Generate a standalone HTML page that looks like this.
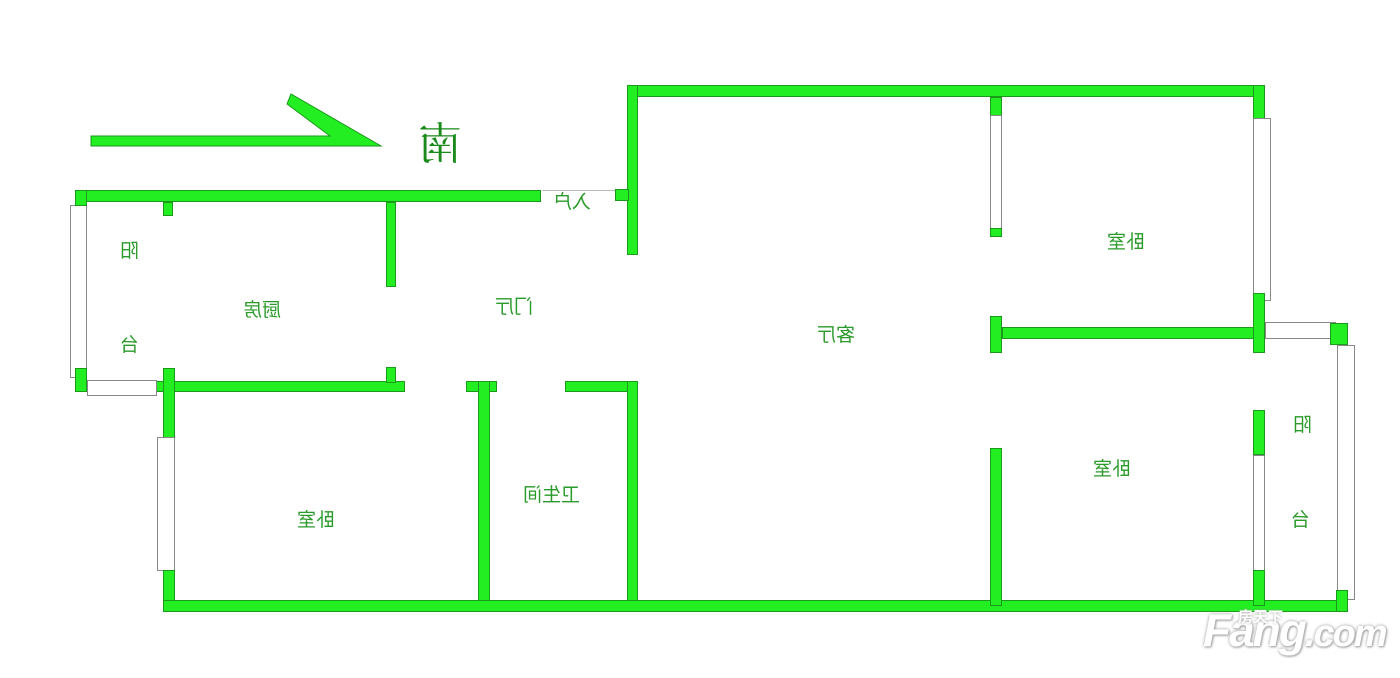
<!DOCTYPE html>
<html><head><meta charset="utf-8"><style>
body{margin:0;width:1400px;height:678px;background:#fff;position:relative;overflow:hidden;font-family:"Liberation Sans","Noto Sans CJK SC",sans-serif}
.w{position:absolute;background:#22ee22;box-shadow:inset 0 0 0 1px #1a9a1a}
.win{position:absolute;background:#fff;border:1px solid #888;box-sizing:border-box}
.t{position:absolute;color:#2a9a2a;font-size:19px;transform:scaleX(-1);white-space:nowrap;font-family:"Noto Sans CJK SC",sans-serif}
</style></head><body>
<svg style="position:absolute;left:0;top:0" width="1400" height="678">
<polygon points="91,136 330,136 287,104 291,94 381,146 91,146" fill="#22ee22" stroke="#1a9a1a" stroke-width="1"/>
</svg>
<div class="t" style="left:418px;top:108px;font-size:44px;color:#1a8a1a;font-family:'Noto Serif CJK SC',serif">南</div>

<!-- living top/left -->
<div class="w" style="left:627px;top:85px;width:638px;height:12px"></div>
<div class="w" style="left:627px;top:85px;width:11px;height:170px"></div>
<div class="w" style="left:615px;top:189px;width:14px;height:12px"></div>
<div style="position:absolute;left:542px;top:190px;width:73px;height:1px;background:#bbb"></div>
<!-- top of left part -->
<div class="w" style="left:75px;top:190px;width:466px;height:12px"></div>
<div class="win" style="left:70px;top:205px;width:17px;height:173px"></div>
<div class="w" style="left:75px;top:190px;width:12px;height:16px"></div>
<div class="w" style="left:75px;top:368px;width:12px;height:24px"></div>
<div class="w" style="left:163px;top:202px;width:10px;height:14px"></div>
<div class="w" style="left:386px;top:202px;width:10px;height:85px"></div>
<div class="w" style="left:155px;top:381px;width:250px;height:11px"></div>
<div class="w" style="left:386px;top:367px;width:10px;height:16px"></div>
<div class="win" style="left:87px;top:380px;width:70px;height:16px"></div>
<div class="w" style="left:163px;top:368px;width:12px;height:70px"></div>
<div class="win" style="left:157px;top:437px;width:18px;height:134px"></div>
<div class="w" style="left:163px;top:570px;width:12px;height:42px"></div>
<!-- bathroom -->
<div class="w" style="left:466px;top:381px;width:31px;height:11px"></div>
<div class="w" style="left:478px;top:381px;width:12px;height:225px"></div>
<div class="w" style="left:565px;top:381px;width:72px;height:11px"></div>
<div class="w" style="left:627px;top:381px;width:11px;height:225px"></div>
<!-- bottom -->
<div class="w" style="left:163px;top:600px;width:1185px;height:12px"></div>
<!-- right partition -->
<div class="w" style="left:990px;top:97px;width:12px;height:20px"></div>
<div class="win" style="left:990px;top:115px;width:12px;height:122px"></div>
<div class="w" style="left:990px;top:228px;width:12px;height:9px"></div>
<div class="w" style="left:990px;top:316px;width:12px;height:37px"></div>
<div class="w" style="left:990px;top:448px;width:12px;height:158px"></div>
<div class="w" style="left:1002px;top:327px;width:263px;height:12px"></div>
<!-- right wall -->
<div class="w" style="left:1253px;top:85px;width:12px;height:40px"></div>
<div class="win" style="left:1253px;top:118px;width:18px;height:183px"></div>
<div class="w" style="left:1253px;top:293px;width:12px;height:60px"></div>
<div class="win" style="left:1265px;top:322px;width:71px;height:17px"></div>
<div class="w" style="left:1330px;top:323px;width:18px;height:22px"></div>
<div class="win" style="left:1337px;top:345px;width:18px;height:255px"></div>
<div class="w" style="left:1336px;top:590px;width:12px;height:22px"></div>
<div class="w" style="left:1253px;top:410px;width:12px;height:45px"></div>
<div class="win" style="left:1253px;top:455px;width:12px;height:116px"></div>
<div class="w" style="left:1253px;top:570px;width:12px;height:36px"></div>
<!-- labels -->
<div class="t" style="left:120px;top:236px">阳</div>
<div class="t" style="left:120px;top:330px">台</div>
<div class="t" style="left:243px;top:295px">厨房</div>
<div class="t" style="left:495px;top:292px">门厅</div>
<div class="t" style="left:553px;top:187px">入户</div>
<div class="t" style="left:817px;top:320px">客厅</div>
<div class="t" style="left:1107px;top:227px">卧室</div>
<div class="t" style="left:1093px;top:454px">卧室</div>
<div class="t" style="left:1293px;top:410px">阳</div>
<div class="t" style="left:1291px;top:505px">台</div>
<div class="t" style="left:523px;top:480px">卫生间</div>
<div class="t" style="left:297px;top:505px">卧室</div>
<div style="position:absolute;left:1203px;top:603px;font:italic bold 46px 'Liberation Sans',sans-serif;color:#fff;text-shadow:0 0 3px #999,1px 1px 2px #aaa;letter-spacing:-2px">Fang<span style="font-size:38px">.com</span></div>
<div style="position:absolute;left:1238px;top:606px;font:bold 15px 'Noto Sans CJK SC',sans-serif;color:#fff;text-shadow:0 0 2px #999">房天下</div>
</body></html>
